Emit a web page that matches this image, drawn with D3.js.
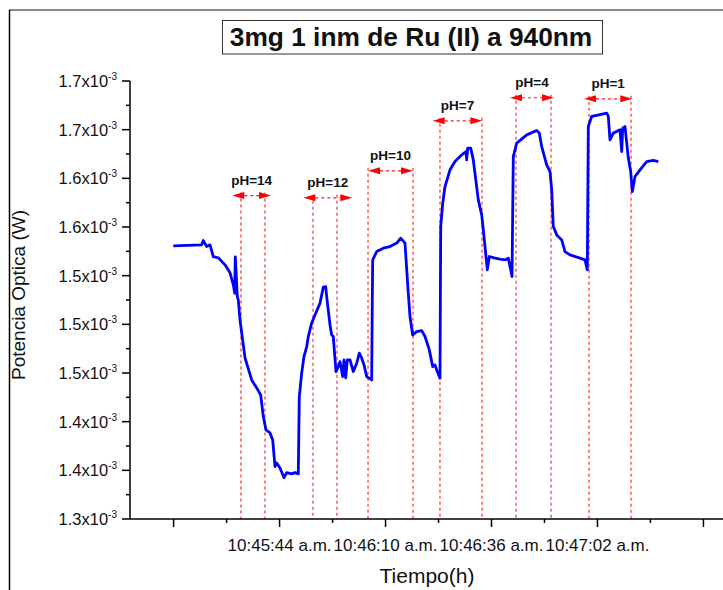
<!DOCTYPE html>
<html>
<head>
<meta charset="utf-8">
<script src="https://cdn.jsdelivr.net/npm/d3@7"></script>
<style>
  body { margin: 0; background: #fff; }
  svg { display: block; font-family: "Liberation Sans", Arial, sans-serif; }
</style>
</head>
<body>
<div id="chart"></div>
<script>
// seconds after 10:45:00 a.m.
const times = [17.92,24.89,25.28,26.12,26.93,27.74,28.97,30.61,31.84,32.65,32.99,33.14,33.63,33.87,34.29,35.52,37.16,38.39,39.37,40.01,
  40.67,41.65,42.31,42.88,43.29,44.10,45.09,45.75,46.98,47.78,48.59,48.84,49.43,49.99,50.66,51.05,51.88,52.69,53.92,54.73,
  55.32,55.56,56.37,56.79,57.18,57.84,58.41,58.83,59.49,59.81,60.22,60.62,61.28,62.09,62.92,63.56,64.15,64.71,65.38,66.60,
  66.75,66.85,67.83,69.45,71.09,72.74,73.72,74.77,75.58,76.00,76.66,77.65,78.87,79.68,80.74,81.57,82.14,82.70,83.36,83.54,
  84.03,84.59,85.82,87.04,88.69,89.74,89.91,90.16,90.90,91.53,92.76,93.59,93.99,94.97,95.46,96.86,98.08,99.31,100.12,100.71,
  101.03,101.35,102.18,104.64,107.09,107.73,108.32,109.54,110.35,110.77,111.16,112.00,113.22,114.03,115.26,117.71,118.94,119.51,119.75,120.58,
  121.81,124.27,124.66,125.07,125.88,127.53,127.95,128.19,128.75,129.57,130.15,130.55,131.21,132.44,134.08,135.70,136.93];

// optical power, x10^-3 W
const power = [1.5726,1.5735,1.5775,1.5719,1.5735,1.5627,1.5615,1.5550,1.5476,1.5365,1.5288,1.5624,1.5257,1.5226,1.5041,1.4690,1.4486,1.4412,1.4347,1.4147,
  1.4024,1.3996,1.3931,1.3684,1.3718,1.3672,1.3582,1.3629,1.3617,1.3629,1.3617,1.4332,1.4551,1.4702,1.4794,1.4887,1.5013,1.5087,1.5196,1.5344,
  1.5349,1.5257,1.4995,1.4902,1.4887,1.4563,1.4609,1.4655,1.4517,1.4671,1.4505,1.4671,1.4671,1.4563,1.4641,1.4733,1.4687,1.4625,1.4517,1.4486,
  1.5226,1.5596,1.5673,1.5704,1.5719,1.5751,1.5797,1.5751,1.5288,1.5072,1.4902,1.4933,1.4942,1.4887,1.4764,1.4609,1.4625,1.4563,1.4502,1.5904,
  1.6121,1.6274,1.6429,1.6505,1.6567,1.6598,1.6521,1.6629,1.6629,1.6521,1.6151,1.6012,1.5874,1.5504,1.5627,1.5612,1.5603,1.5596,1.5612,1.5504,
  1.5442,1.6552,1.6676,1.6752,1.6792,1.6768,1.6644,1.6475,1.6413,1.6244,1.5904,1.5827,1.5781,1.5673,1.5642,1.5612,1.5596,1.5504,1.6829,1.6922,
  1.6933,1.6953,1.6922,1.6706,1.6768,1.6799,1.6598,1.6814,1.6829,1.6537,1.6413,1.6228,1.6367,1.6429,1.6505,1.6516,1.6505];

// pH change marks
const phLabels = ["pH=14", "pH=12", "pH=10", "pH=7", "pH=4", "pH=1"];
const phLineStart = [34.53, 52.20, 65.70, 83.36, 102.01, 119.92];
const phLineEnd = [40.42, 58.09, 76.74, 93.67, 110.60, 130.23];
const phArrowStart = [32.40, 49.82, 65.70, 81.57, 100.54, 118.70];
const phArrowEnd = [41.90, 61.84, 76.74, 93.74, 111.34, 130.55];
const phLevel = [1.6191, 1.6170, 1.6419, 1.6882, 1.7095, 1.7085];

const xMajorTicks = [18, 44, 70, 96, 122, 148];
const xMinorTicks = [31, 57, 83, 109, 135];
const xTickLabels = {44: "10:45:44 a.m.", 70: "10:46:10 a.m.", 96: "10:46:36 a.m.", 122: "10:47:02 a.m."};

const yTickValues = [1.32, 1.365, 1.41, 1.455, 1.5, 1.545, 1.59, 1.635, 1.68, 1.725];
const yTickLabels = ["1.3", "1.4", "1.4", "1.5", "1.5", "1.5", "1.6", "1.6", "1.7", "1.7"];
const yMinorTicks = [1.3425, 1.3875, 1.4325, 1.4775, 1.5225, 1.5675, 1.6125, 1.6575, 1.7025];

const width = 723, height = 590;

const svg = d3.select("#chart").append("svg")
  .attr("width", width)
  .attr("height", height);

const x = d3.scaleLinear().domain([7.3, 152.8]).range([130, 723]);
const y = d3.scaleLinear().domain([1.32, 1.725]).range([519, 81]);

// outer frame bits
svg.append("line").attr("x1", 9).attr("x2", width).attr("y1", 10).attr("y2", 10)
  .attr("stroke", "#8a8a8a").attr("stroke-width", 2);
svg.append("line").attr("x1", 9.5).attr("x2", 9.5).attr("y1", 10).attr("y2", height)
  .attr("stroke", "#000").attr("stroke-width", 1.5);

// red dashed marks
const marks = svg.append("g");
phLabels.forEach((lab, i) => {
  const yy = y(phLevel[i]);
  [phLineStart[i], phLineEnd[i]].forEach(t => {
    marks.append("line")
      .attr("x1", x(t)).attr("x2", x(t))
      .attr("y1", yy - 3).attr("y2", y(1.32))
      .attr("stroke", "#ff1a1a").attr("stroke-width", 1.1)
      .attr("stroke-dasharray", "3,3");
  });
  const a0 = x(phArrowStart[i]), a1 = x(phArrowEnd[i]);
  const head = 12;
  marks.append("line")
    .attr("x1", a0 + head).attr("x2", a1 - head)
    .attr("y1", yy).attr("y2", yy)
    .attr("stroke", "#ff1a1a").attr("stroke-width", 1.2)
    .attr("stroke-dasharray", "3,3");
  marks.append("path")
    .attr("d", `M${a0},${yy}L${a0 + head},${yy - 3.5}L${a0 + head},${yy + 3.5}Z`)
    .attr("fill", "#ff0000");
  marks.append("path")
    .attr("d", `M${a1},${yy}L${a1 - head},${yy - 3.5}L${a1 - head},${yy + 3.5}Z`)
    .attr("fill", "#ff0000");
  marks.append("text")
    .attr("x", (a0 + a1) / 2)
    .attr("y", yy - 11)
    .attr("text-anchor", "middle")
    .attr("font-size", 13.5)
    .attr("font-weight", "bold")
    .attr("fill", "#111")
    .text(lab);
});

// data line
const line = d3.line()
  .x((d, i) => x(times[i]))
  .y(d => y(d));

svg.append("path")
  .datum(power)
  .attr("d", line)
  .attr("fill", "none")
  .attr("stroke", "#0000ff")
  .attr("stroke-width", 2.8)
  .attr("stroke-linejoin", "round");

// x axis
const xAxis = svg.append("g").attr("transform", "translate(0,519)");
xAxis.append("line").attr("x1", 130).attr("x2", width).attr("y1", 0).attr("y2", 0)
  .attr("stroke", "#000").attr("stroke-width", 1.5);
xAxis.selectAll(".maj").data(xMajorTicks).join("line")
  .attr("x1", d => x(d)).attr("x2", d => x(d))
  .attr("y1", 0).attr("y2", 8)
  .attr("stroke", "#000").attr("stroke-width", 1.5);
xAxis.selectAll(".min").data(xMinorTicks).join("line")
  .attr("x1", d => x(d)).attr("x2", d => x(d))
  .attr("y1", 0).attr("y2", 4)
  .attr("stroke", "#000").attr("stroke-width", 1.5);
xAxis.selectAll("text").data(Object.keys(xTickLabels).map(Number)).join("text")
  .attr("x", d => x(d))
  .attr("y", 32)
  .attr("text-anchor", "middle")
  .attr("font-size", 17)
  .attr("fill", "#111")
  .text(d => xTickLabels[d]);

// y axis
const yAxis = svg.append("g");
yAxis.append("line").attr("x1", 130).attr("x2", 130).attr("y1", y(1.725)).attr("y2", y(1.32))
  .attr("stroke", "#000").attr("stroke-width", 1.5);
yAxis.selectAll(".maj").data(yTickValues).join("line")
  .attr("x1", 122).attr("x2", 130)
  .attr("y1", d => y(d)).attr("y2", d => y(d))
  .attr("stroke", "#000").attr("stroke-width", 1.5);
yAxis.selectAll(".min").data(yMinorTicks).join("line")
  .attr("x1", 126).attr("x2", 130)
  .attr("y1", d => y(d)).attr("y2", d => y(d))
  .attr("stroke", "#000").attr("stroke-width", 1.5);
yAxis.selectAll("text").data(yTickValues).join("text")
  .attr("x", 117)
  .attr("y", d => y(d) + 6)
  .attr("text-anchor", "end")
  .attr("font-size", 16.5)
  .attr("fill", "#111")
  .each(function(d, i) {
    const t = d3.select(this);
    t.append("tspan").text(yTickLabels[i] + "x10");
    t.append("tspan").attr("dy", -7).attr("font-size", 10).text("-3");
  });

// axis titles
svg.append("text")
  .attr("x", 427).attr("y", 583)
  .attr("text-anchor", "middle")
  .attr("font-size", 21)
  .attr("fill", "#111")
  .text("Tiempo(h)");
svg.append("text")
  .attr("transform", "translate(25,295) rotate(-90)")
  .attr("text-anchor", "middle")
  .attr("font-size", 19)
  .attr("fill", "#111")
  .text("Potencia Optica (W)");

// title box
svg.append("rect")
  .attr("x", 222.5).attr("y", 20.5).attr("width", 380).attr("height", 33.5)
  .attr("fill", "#fff").attr("stroke", "#333").attr("stroke-width", 1);
svg.append("text")
  .attr("x", 411).attr("y", 46)
  .attr("text-anchor", "middle")
  .attr("font-size", 26.3)
  .attr("font-weight", "bold")
  .attr("fill", "#111")
  .text("3mg 1 inm de Ru (II) a 940nm");
</script>
</body>
</html>
